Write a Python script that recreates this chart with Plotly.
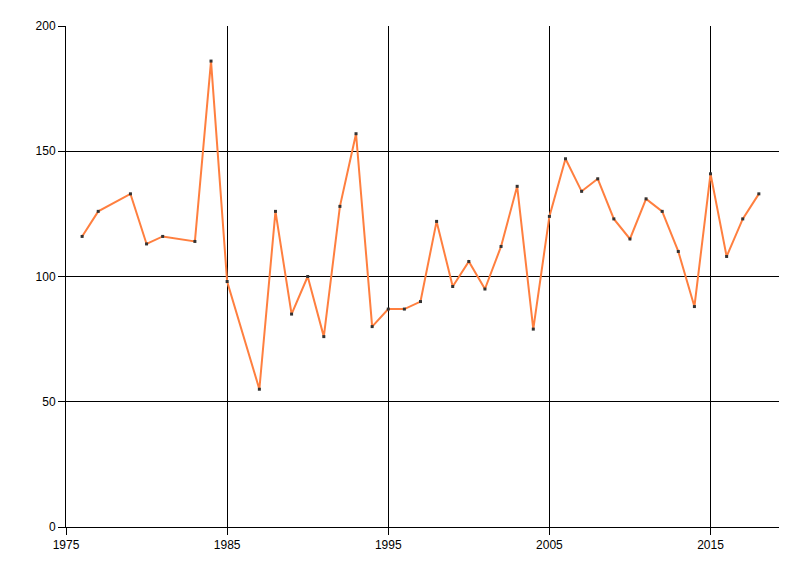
import plotly.graph_objects as go

years = [1976, 1977, 1979, 1980, 1981, 1983, 1984, 1985, 1987, 1988, 1989, 1990,
         1991, 1992, 1993, 1994, 1995, 1996, 1997, 1998, 1999, 2000, 2001, 2002,
         2003, 2004, 2005, 2006, 2007, 2008, 2009, 2010, 2011, 2012, 2013, 2014,
         2015, 2016, 2017, 2018]
values = [116, 126, 133, 113, 116, 114, 186, 98, 55, 126, 85, 100,
          76, 128, 157, 80, 87, 87, 90, 122, 96, 106, 95, 112,
          136, 79, 124, 147, 134, 139, 123, 115, 131, 126, 110, 88,
          141, 108, 123, 133]
x_ticks = [1975, 1985, 1995, 2005, 2015]
y_ticks = [0, 50, 100, 150, 200]

fig = go.Figure()
fig.add_trace(go.Scatter(
    x=years, y=values, mode="lines+markers",
    line=dict(color="#FF7F3F", width=2),
    marker=dict(symbol="square", size=3, color="#333333"),
    showlegend=False,
))

axis_common = dict(
    showgrid=True, gridcolor="black", gridwidth=1,
    showline=True, linecolor="black", linewidth=1,
    ticks="outside", ticklen=7, tickcolor="black", tickwidth=1,
    zeroline=False,
    tickfont=dict(family="Liberation Sans Narrow, Liberation Sans, Arial, sans-serif", size=12, color="black"),
)

fig.update_xaxes(range=[1975, 2019.25], tickvals=x_ticks, ticktext=[str(v) for v in x_ticks], **axis_common)
fig.update_yaxes(range=[0, 200], tickvals=y_ticks, ticktext=[str(v) for v in y_ticks], **axis_common)

fig.update_layout(
    width=800, height=576,
    margin=dict(l=66, r=21, t=26, b=49),
    plot_bgcolor="white", paper_bgcolor="white",
)

fig.write_html(
    "out.html",
    config={"displayModeBar": False},
    post_script="document.body.style.margin='0';document.body.style.padding='0';document.body.style.overflow='hidden';",
)
